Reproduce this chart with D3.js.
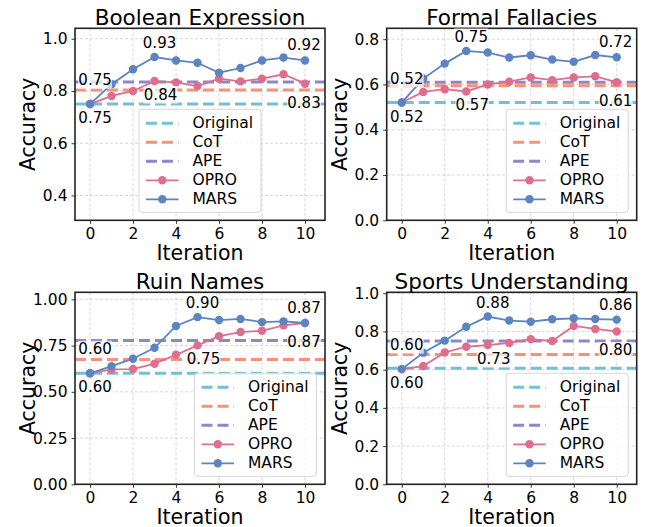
<!DOCTYPE html>
<html lang="en">
<head>
  <meta charset="UTF-8">
  <title>Accuracy vs Iteration</title>
  <script src="https://d3js.org/d3.v7.min.js"></script>
  <style>
    body { margin: 0; background: #fff; }
    svg { font-family: "DejaVu Sans", sans-serif; }
    .tick text { fill: #000; }
  </style>
</head>
<body>
  <svg id="chart" width="647" height="527"></svg>
  <script>
    // data
    const iterations = [0, 1, 2, 3, 4, 5, 6, 7, 8, 9, 10];
    const tasks = ["Boolean Expression", "Formal Fallacies", "Ruin Names", "Sports Understanding"];
    const originalAcc = [0.75, 0.52, 0.60, 0.607];
    const cotAcc = [0.804, 0.594, 0.675, 0.68];
    const apeAcc = [0.834, 0.61, 0.778, 0.75];
    const oproAcc = [
      [0.75, 0.781, 0.80, 0.838, 0.833, 0.819, 0.847, 0.837, 0.847, 0.864, 0.828],
      [0.52, 0.567, 0.579, 0.569, 0.60, 0.612, 0.631, 0.619, 0.631, 0.636, 0.61],
      [0.60, 0.621, 0.623, 0.652, 0.70, 0.751, 0.801, 0.823, 0.83, 0.859, 0.872],
      [0.603, 0.619, 0.69, 0.72, 0.729, 0.74, 0.76, 0.75, 0.829, 0.813, 0.80]
    ];
    const marsAcc = [
      [0.75, 0.826, 0.883, 0.93, 0.917, 0.908, 0.87, 0.888, 0.917, 0.928, 0.917],
      [0.52, 0.626, 0.692, 0.748, 0.741, 0.719, 0.729, 0.71, 0.70, 0.73, 0.72],
      [0.60, 0.639, 0.679, 0.738, 0.856, 0.904, 0.888, 0.894, 0.877, 0.881, 0.872],
      [0.603, 0.689, 0.752, 0.825, 0.878, 0.857, 0.851, 0.864, 0.869, 0.865, 0.862]
    ];
    const yTicks = [
      [0.4, 0.6, 0.8, 1.0],
      [0, 0.2, 0.4, 0.6, 0.8],
      [0, 0.25, 0.5, 0.75, 1.0],
      [0, 0.2, 0.4, 0.6, 0.8, 1.0]
    ];
    const yTickFormat = [".1f", ".1f", ".2f", ".1f"];
    const yDomains = [[0.305, 1.04], [0, 0.848], [0, 1.038], [0, 1.005]];
    const xTicks = [0, 2, 4, 6, 8, 10];
    const legendNames = ["Original", "CoT", "APE", "OPRO", "MARS"];

    const colors = {
      Original: "#78bdd8",
      CoT: "#f4927a",
      APE: "#8b87c8",
      OPRO: "#df6e8e",
      MARS: "#5b84c1"
    };

    const svg = d3.select("#chart");
    const panelW = 250, panelH = 192;
    const origins = [[75, 28.3], [386.7, 28.3], [75, 292.3], [386.7, 292.3]];
    const legendLoc = ["center", "right", "right", "right"];

    // label offsets in px: [dx, dy] for start / peak / last points
    const labelOffsets = {
      MARS: { start: [5, -24], peak: [5, -14], last: [-1, -15] },
      OPRO: { start: [5, 14], peak: [6, 14], last: [-1, 19] }
    };

    tasks.forEach((task, p) => {
      const [ox, oy] = origins[p];
      const g = svg.append("g").attr("transform", `translate(${ox},${oy})`);

      const x = d3.scaleLinear().domain([-0.7, 10.93]).range([0, panelW]);
      const y = d3.scaleLinear().domain(yDomains[p]).range([panelH, 0]);

      // grid
      g.append("g").selectAll("line").data(xTicks).join("line")
        .attr("x1", d => x(d)).attr("x2", d => x(d))
        .attr("y1", 0).attr("y2", panelH)
        .attr("stroke", "#b8b8b8").attr("stroke-width", 0.8)
        .attr("stroke-dasharray", "3,2").attr("opacity", 0.7);
      g.append("g").selectAll("line").data(yTicks[p]).join("line")
        .attr("x1", 0).attr("x2", panelW)
        .attr("y1", d => y(d)).attr("y2", d => y(d))
        .attr("stroke", "#b8b8b8").attr("stroke-width", 0.8)
        .attr("stroke-dasharray", "3,2").attr("opacity", 0.7);

      // baselines
      const baselines = [["Original", originalAcc[p]], ["CoT", cotAcc[p]], ["APE", apeAcc[p]]];
      baselines.forEach(([name, v]) => {
        g.append("line")
          .attr("x1", 0).attr("x2", panelW)
          .attr("y1", y(v)).attr("y2", y(v))
          .attr("stroke", colors[name]).attr("stroke-width", 3)
          .attr("stroke-dasharray", "11,5");
      });

      const line = d3.line().x((d, i) => x(iterations[i])).y(d => y(d));
      [["OPRO", oproAcc[p]], ["MARS", marsAcc[p]]].forEach(([name, vals]) => {
        g.append("path").datum(vals)
          .attr("d", line).attr("fill", "none")
          .attr("stroke", colors[name]).attr("stroke-width", 1.8);
        g.append("g").selectAll("circle").data(vals).join("circle")
          .attr("cx", (d, i) => x(iterations[i])).attr("cy", d => y(d))
          .attr("r", 4.2).attr("fill", colors[name]);
      });

      // axes
      const xAxis = g.append("g").attr("transform", `translate(0,${panelH})`)
        .call(d3.axisBottom(x).tickValues(xTicks).tickSize(3.5).tickPadding(4));
      const yAxis = g.append("g")
        .call(d3.axisLeft(y).tickValues(yTicks[p]).tickFormat(d3.format(yTickFormat[p])).tickSize(3.5).tickPadding(4));
      [xAxis, yAxis].forEach(a => {
        a.select(".domain").remove();
        a.selectAll(".tick text").attr("font-size", 15.5).attr("font-family", "DejaVu Sans");
        a.selectAll(".tick line").attr("stroke", "#222").attr("stroke-width", 0.9);
      });
      g.append("rect").attr("width", panelW).attr("height", panelH)
        .attr("fill", "none").attr("stroke", "#222").attr("stroke-width", 1.6);

      // annotations
      const mv = marsAcc[p];
      const peak = mv.indexOf(d3.max(mv));
      const last = iterations.length - 1;
      const marks = [];
      [["start", 0], ["peak", peak], ["last", last]].forEach(([kind, i]) => {
        marks.push({ name: "MARS", i, v: marsAcc[p][i], off: labelOffsets.MARS[kind] });
        marks.push({ name: "OPRO", i, v: oproAcc[p][i], off: labelOffsets.OPRO[kind] });
      });
      marks.forEach(m => {
        const cx = x(iterations[m.i]) + m.off[0];
        const cy = y(m.v) + m.off[1];
        const w = 34, h = 17;
        g.append("rect").attr("x", cx - w / 2).attr("y", cy - h / 2)
          .attr("width", w).attr("height", h)
          .attr("fill", "#fff").attr("opacity", 0.7);
        g.append("text").attr("x", cx).attr("y", cy)
          .attr("text-anchor", "middle").attr("dominant-baseline", "central")
          .attr("font-size", 15).text(m.v.toFixed(2));
      });

      // legend
      const lw = 122, lh = 103;
      const lx = legendLoc[p] === "center" ? (panelW - lw) / 2 : panelW - lw - 8.5;
      const ly = panelH - lh - 8;
      const leg = g.append("g").attr("transform", `translate(${lx},${ly})`);
      leg.append("rect").attr("width", lw).attr("height", lh).attr("rx", 3)
        .attr("fill", "#fff").attr("fill-opacity", 0.8)
        .attr("stroke", "#d6d6d6").attr("stroke-width", 1);
      legendNames.forEach((name, k) => {
        const yy = 14 + k * 19;
        const it = leg.append("g").attr("transform", `translate(0,${yy})`);
        const dashed = k < 3;
        it.append("line").attr("x1", 7).attr("x2", 39.5).attr("y1", 0).attr("y2", 0)
          .attr("stroke", colors[name])
          .attr("stroke-width", dashed ? 3 : 1.8)
          .attr("stroke-dasharray", dashed ? "11,5" : null);
        if (!dashed) {
          it.append("circle").attr("cx", 23.3).attr("cy", 0).attr("r", 4.2).attr("fill", colors[name]);
        }
        it.append("text").attr("x", 53.5).attr("y", 0).attr("dominant-baseline", "central")
          .attr("font-size", 15.5).text(name);
      });

      // titles
      g.append("text").attr("x", panelW / 2).attr("y", -3)
        .attr("text-anchor", "middle").attr("font-size", 21.5).text(task);
      g.append("text").attr("x", panelW / 2).attr("y", panelH + 40)
        .attr("text-anchor", "middle")
        .attr("font-size", 20.5).text("Iteration");
      g.append("text")
        .attr("transform", `translate(-47,${panelH / 2}) rotate(-90)`)
        .attr("text-anchor", "middle").attr("dominant-baseline", "central")
        .attr("font-size", 20.5).text("Accuracy");
    });
  </script>
</body>
</html>
